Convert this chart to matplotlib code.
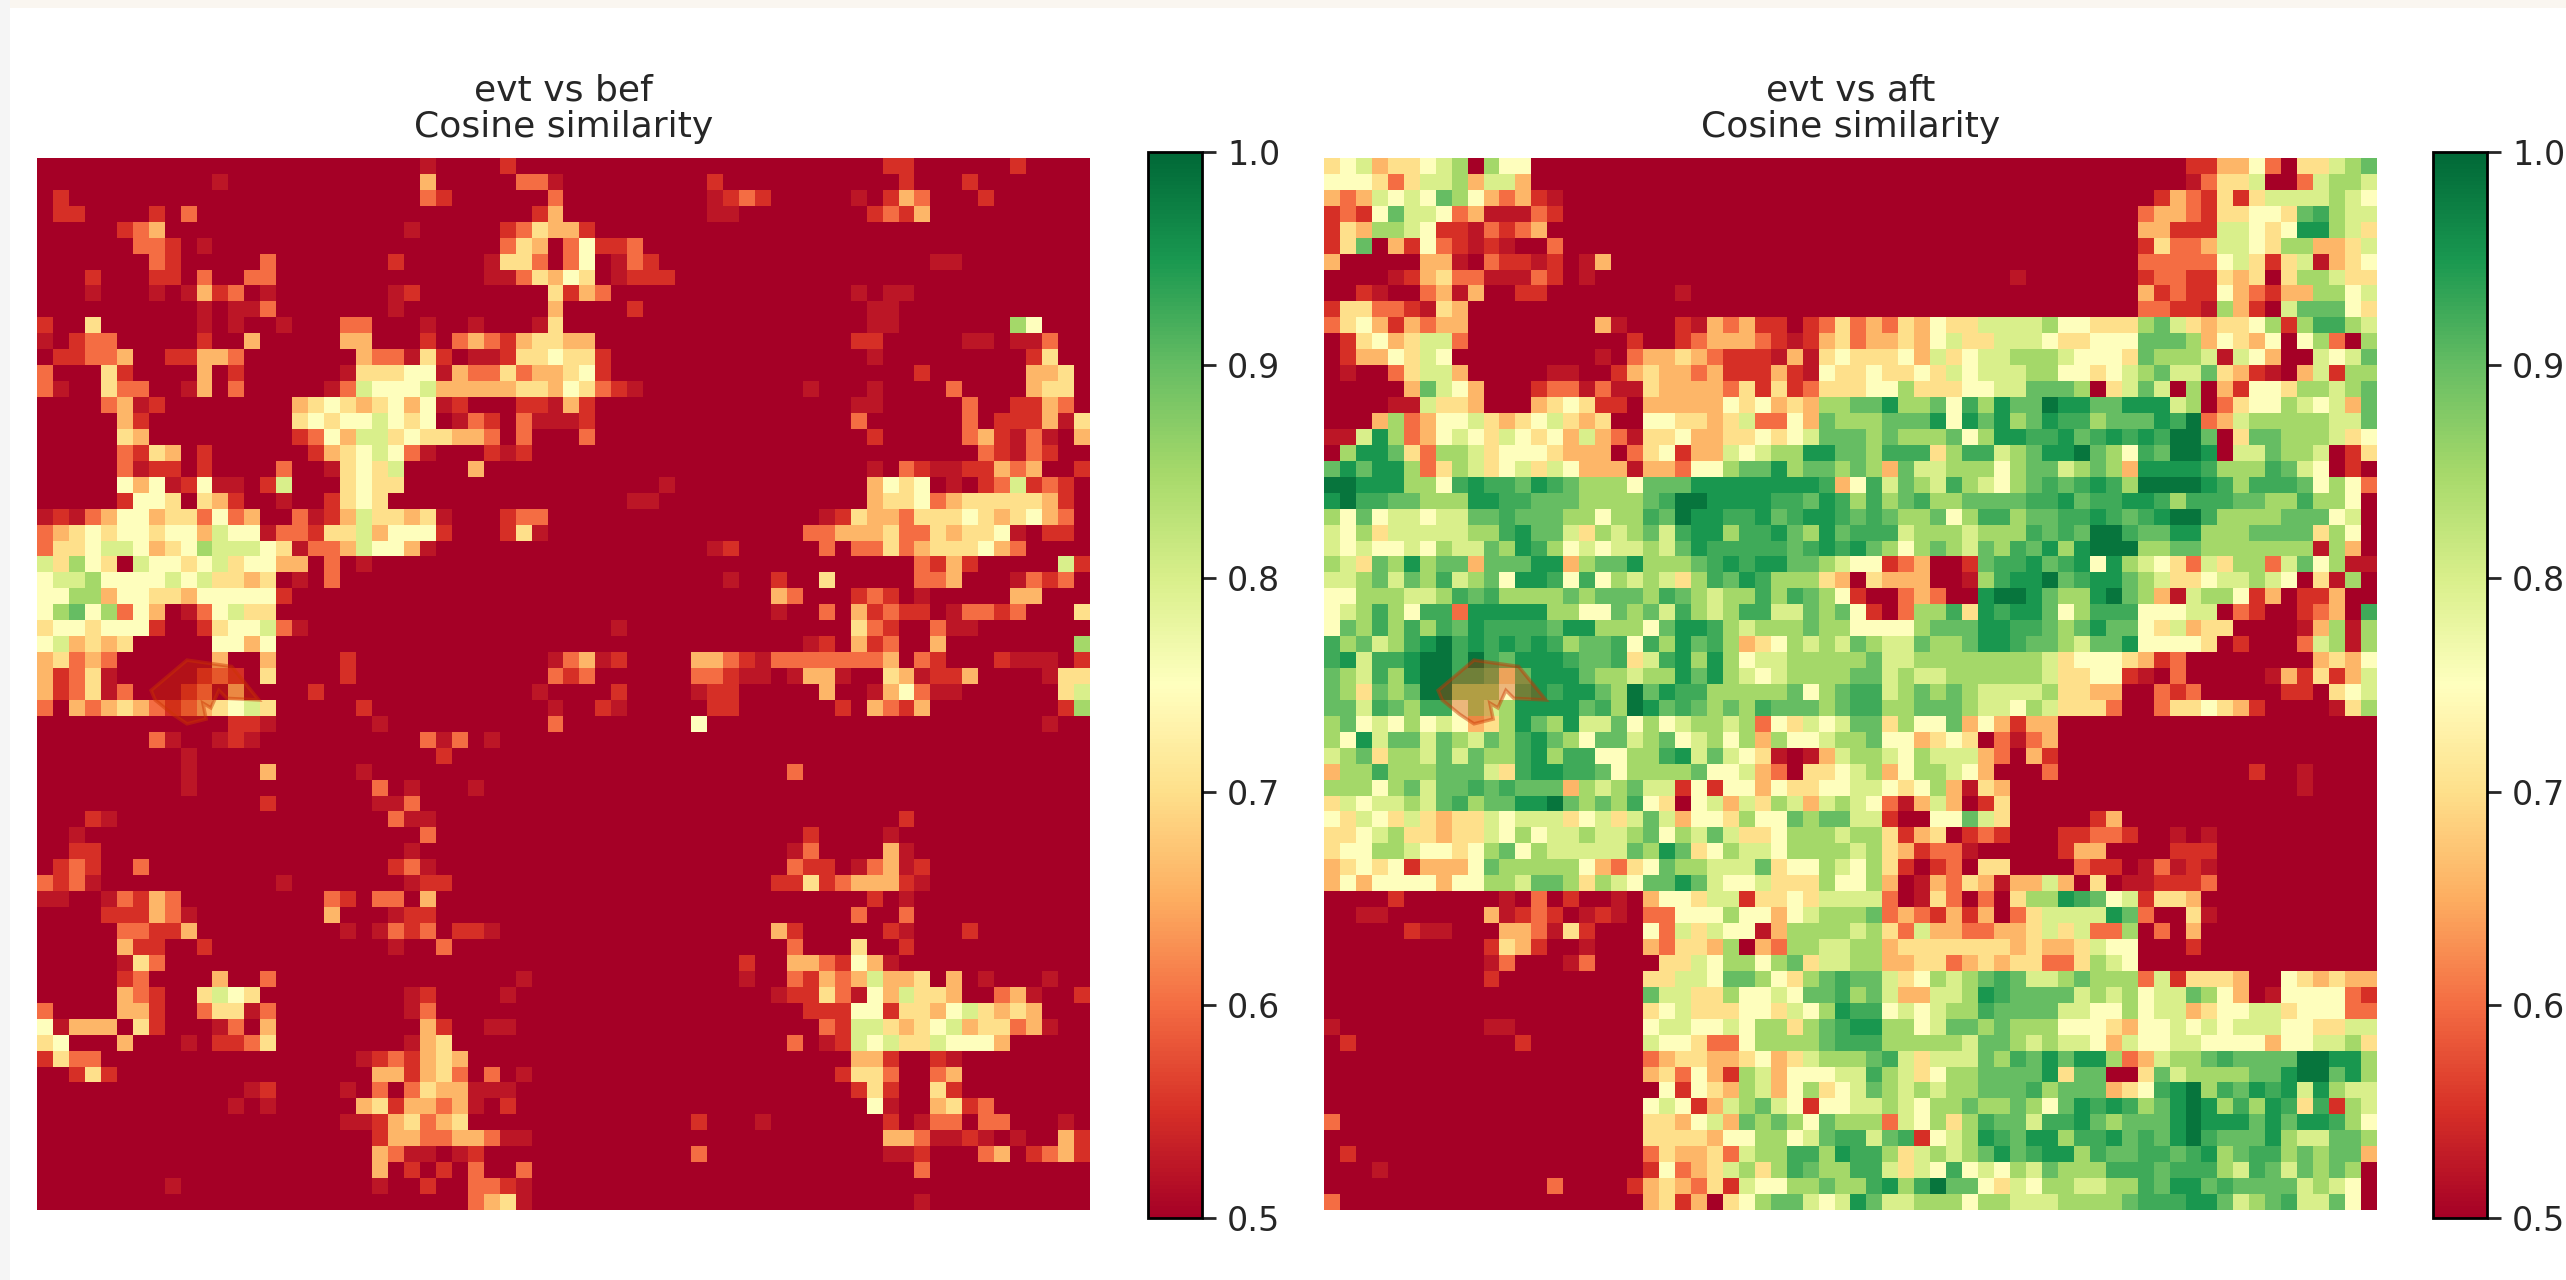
import numpy as np
import matplotlib
matplotlib.use("Agg")
import matplotlib.pyplot as plt
from matplotlib.patches import Polygon, Rectangle

# cell values, one string per row
# "col:vals" starts at a column, everything not listed is 0 (<= 0.5)
LEVELS = {'0': 0.50, 'r': 0.525, '1': 0.55, '2': 0.60, '3': 0.66, '4': 0.70, '5': 0.75,
          '6': 0.80, '7': 0.85, '8': 0.90, 'g': 0.925, '9': 0.95, 'd': 0.985}
N = 66

bef_left = [
    "24:r 29:1", "11:r 24:3 30:22r", "1:1 24:21 32:2", "1:11 7:1 9:2 31:13", "5:123 23:r 29:1243",
    "6:221 10:r 29:243", "7:21 14:2 22:1 28:r442", "3:1 7:11 10:2 13:22 28:rr243", "3:r 7:r 9:r312 14:r 22:r1 32:4",
    "10:r 12:rr2 22:r 32:3", "0:1 3:4 10:r 12:r 15:r 19:22 24:r 27:r 31:r4", "0:r 2:122 10:1 13:3 19:33 24:1 26:2321344",
    "1:11223 8:11332 20:322r41 27:rr1445", "0:2 4:41 10:3 12:1 19:r44455r3224233", "0:2r 4:422 9:r3 12:2 18:r26555633333443",
    "4:23r1 16:34543453 5r1 30:11r", "5:31 16:454556545 26:r21 30:2rr", "5:43 16:1253664544332 30:2",
    "5:2143 10:1 17:1345652r 28:1r1", "5:2r11 10:1 15:2 18:r4546 27:3", "5:535r15rr 14:16 19:4544",
    "5:1554 10:431 15:r 18:1454", "0:r1r23 55344 2523 16:2r13644 34r 29:122", "0:23454 55455 3655r 22144 63555 1 29:14r",
    "0:24456 65345 76665 4r223 6553r", "0:64754 06554 56455 33020 r", "0:56675 55565 64434 0r02",
    "0:55773 55443 55555 1", "0:57857 2530r 25644", "0:45545 55100 14556 2r", "0:563434 11:5535",
    "0:34232 11:3 14:3 19:1 32:r", "0:3124r 10:121 14:4 19:1 32:2",
    "0:3124r2 9:12 12:3 17:1 31:r", "0:2 2:3234321234564 20:1 32:r", "12:11r 21:r 32:2", "7:2r 11:r1r 24:2r2 28:r",
    "9:r 25:1", "9:r 14:3 20:r", "9:r 21:2 23:r 27:r", "14:1 21:rr2", "3:1r 22:2rr", "2:r 24:2", "2:11 23:r",
    "1:121 6:2 22:12r", "0:212r 15:r 23:r11", "0:rr 4:r2132 18:21 21:22 24:3", "4:11132r 18:3 22:r11",
    "5:22113 19:r 21:r212 26:11r", "5:311 10:1 22:r 25:2", "5:r42", "5:12 11:3 14:2 30:r",
    "5:321 10:4654 23:r1 29:r", "0:2 5:331 10:244r2 23:r2", "0:5r333 6:41 11:r2 14:3 24:31 28:rr",
    "0:45 5:3 9:r 11:1124 23:r34", "0:1422 20:r121343", "2:141 21:331342 28:2 30:r",
    "13:r1 19:r 21:2 23:2433rrr", "12:r 14:r 20:3413323r 29:1", "19:rr134234", "21:13322332rr",
    "21:32rr 26:r1", "21:3 23:1 25:1 27:2 30:2", "8:r 21:r 24:1 27:221r", "27:234r",
]

bef_right = [
    "20:11 28:1", "9:1 21:1 25:1", "9:r121 18:r 20:132 26:1", "9:rr 19:1213", "0:31", "0:25112", "0:25 3:r21 23:rr",
    "0:54 3:r111", "0:132 18:r 20:rr", "4:1 19:rr", "19:rr 28:75", "0:33 18:11 25:rr 28:rr2", "0:441 19:r 29:14",
    "0:451 22:1 29:334", "0:54 2:21r 15:r 19:r 24:2 29:344", "0:31 18:rr 25:2 28:1132", "0:r1 18:2 25:2 27:1113r4",
    "1:2 19:1 25:231r2r 32:3", "26:21r21", "19:r 21:21rr11323 32:1", "6:r 19:35450r 26:126121", "4:rr 19:3445234444431",
    "16:r1433 24445 43453 2", "15:22333 42243 445r0 11", "9:r1 16:2 18:22423 44453 2", "22:2131 31:61",
    "10:r 13:1 16:4 22:223 28:r212", "13:32 18:121 22:r 28:33", "13:r 16:2 18:31211 24:r2212 32:4",
    "3:r 18:421 23:2rr", "15:r1 18:312 23:3 32:7", "0:23r1 8:3321r 22222 22302 1 27:1rrr 32:1",
    "0:12 8:221rr 14:r33r 20:43r113 30:r44",
    "3:1 8:r11 16:3 19:r352rr 31:46", "2:1r 9:11 17:1 19:3213 31:17", "8:5 30:r", "", "", "14:2", "", "", "21:1",
    "15:1 20:r", "14:r2 20:3r", "14:211 18:r23r1", "13:114123331r", "19:1 21:r", "18:2 21:2", "13:31 20:1r 25:1",
    "14:2 18:4 21:1", "11:1 14:332153r", "11:r 14:213236334 24:3 26:r 30:r", "13:r1142r536443 27:23r 32:1",
    "15:111551443564343", "16:21664345634423r", "14:2 16:r16564465553", "18:331 23:1r", "17:1442 23:23",
    "18:141 23:41", "19:5r 23:3412", "8:1 12:r 20:1 22:r22 26:22 31:r", "20:332rr1r 28:r 31:31",
    "8:2 20:rr1 26:23 29:1231", "22:2", "", "22:r",
]

aft_left = [
    "0:45634 45670 755", "0:55542 46673 663", "0:32365 65875 3231r", "0:12158 66523 rrr21", "0:14377 6511r 2123",
    "0:14803 1521r 1r002", "0:3 6:33r0211r1 16:r3", "4:r13422rrr21 16:r", "2:1r 6:23r3 12:11 22:r", "0:144221 6:r43",
    "0:24531 3233 17:3r 22:1r323110124", "1:14534662 19:1 22:1233321r134", "1:1335465 17:r 19:233432111r3r45",
    "1:r 4:24663 14:rr 18:13433 23111 31r54", "5:38653 13:122r2 rr433 33241 41244", "4:rr6443 13:34541 10333 33545 34377",
    "3:37235 56434 56434 00554 43462 25387", "0:rr697 23565 46545 3632r 44533 44545 688",
    "0:07998 42776 45554 33302 45133 65677 998", "0:89899 72476 45646 5333r 33255 78897 887",
    "0:dd999 775g9 gg89g 87775 88899 99999 9g3", "0:9dgg8 87779 9gg88 87777 8gdd9 999gg 89g",
    "0:75856 65668 8g888 77577 g8d99 gg98g 99g", "0:65746 66667 7g988 64767 86g99 7gg98 798",
    "0:65655 65766 879g7 56566 7689g gggg8 g9g", "0:76487 97883 88899 37889 7778g 9g998 876",
    "0:66786 87g67 8599g 5g576 7647g 89g77 743", "0:55777 667g8 g7777 87888 7g876 77g7g 875",
    "0:567g7 5gg29 99997 75587 86g76 7gg66 878", "0:587g7 g7g89 gggg8 99777 5899g 76777 877",
    "0:g7867 g9dg9 g9g9g 788g5 g798g 73457 676", "0:g96gg 9ddgd g8999 g88g4 6g979 75667 777",
    "0:876g7 9ddgg 84899 98776 77989 76567 777",
    "0:87487 8dd77 75g9g 9987d 89gg7 77778 578", "0:886g8 7gg57 67999 98g7d 98g87 87g88 878",
    "0:78565 75653 47987 96685 75677 67254 656", "0:75968 86876 87g98 75886 78567 57375 567",
    "0:67847 76868 77g97 gg557 7g968 654r0 r36", "0:377g7 77888 64g99 gg857 77785 56320 445",
    "0:77757 8688g 8g888 37678 66151 55354 455", "0:46566 768g7 8899d 8787g 54056 36476 367",
    "0:54654 64344 65666 45646 86355 47558 788", "0:44567 44344 65756 67667 85768 64457 776",
    "0:45577 65545 78576 66668 79845 76657 777", "0:34545 13335 87777 75324 58776 66845 576",
    "0:35355 55355 77688 74765 88986 55644 475", "4:1 11:r0201 00r03 55466 14454 66",
    "2:rr 10:3r121 0r1r0 22555 75535 677", "5:1rr 11:332r41 20:52646 55r37 777",
    "10:1431 16:r 20:32443 70327 766", "10:r2 15:r2 21:44657 75784 66", "10:1 20:44665 88754 78g",
    "20:86644 75565 88g", "20:45644 45546 579", "0:r 10:rr 20:56655 65774 78g", "1:1 12:1 20:65542 25777 78g",
    "20:23443 34534 677", "20:34253 17635 556", "21:51543 76357 45", "20:56513 67865 155", "0:2 20:44356 38787 587",
    "20:44443 55775 68g", "1:1 20:24334 2677g g79", "3:r 20:15234 6747g 877", "14:2 19:13432 41655 7787",
    "0:2 20:34130 45788 656",
]

aft_right = [
    "21:113352044678", "21:r24460026776", "19:13214146666765", "18:23321 44554 8g766", "18:33111 66545 99764",
    "18:14223 66547 73346", "18:22222 56414 6r345", "10:r 18:12211 43404 77644", "18:31211 53213 37756",
    "18:2211r 73106 88854", "0:23243 54466 66755 44478 64344 5717g g76", "0:23343 56446 66544 55588 87354 35057 207",
    "0:44453 64566 77765 55487 776r6 53006 568", "0:45445 46566 67755 45678 66843 1r036 177",
    "0:45574 44556 68887 04686 07031 55477 678", "0:88977 85g79 88d99 88999 67024 55765 638",
    "0:77888 95989 789gg 78889 gd236 77777 668", "0:87877 78579 9gg98 g9g9g dd804 88777 645",
    "0:87ggg 47gg6 7899d 875g8 dd906 68776 014", "0:87386 67775 78867 87399 99g77 7g865 010",
    "0:5g687 6g765 78g8g 9g7dd dd9g7 ggg85 752", "0:7g78g 77888 8gg98 gg99g 7ggg8 877g7 750",
    "0:8g877 857gg 788gg 9g8g9 ddg77 77888 560", "0:ggg67 77677 7g8g8 ddg88 99777 88884 750",
    "0:98757 87687 g8979 ddd77 88777 7777r 730", "0:55123 0018g g98g9 59765 42647 72685 7rr",
    "0:04333 00r7g 99d8g 99876 44566 76504 r70", "0:10023 2009d d9877 9d873 r6775 13011 300",
    "0:51027 7g49g 99857 ggg55 56602 10012 30g", "0:55557 88899 gg878 98854 63440 000r3 7r7",
    "0:87668 77899 g8876 88955 55401 00026 7r7", "0:78667 77777 77645 55431 20000 00003 435",
    "0:88676 67777 77644 551r0 20000 0r314 136",
    "0:gg678 78766 66744 33002 12000 00110 456", "0:gg778 88766 57644 42002 44543 10000 r47", "0:88475 58353 133",
    "0:78553 45402 r23", "0:77657 66632 031", "0:67357 76530 002 25:1 28:r", "0:66545 73r43 28:r", "0:652r3 63014",
    "0:66100 55864 15:13", "0:77413 40121 13:11221 20:r 22:r", "0:67431 22r 13:133 20:111",
    "0:57410 12044 14:211 18:r2r1r", "0:5730r 3243r 33630 40rr1 112", "0:6620r 42020 4779g 85614 43",
    "0:78232 13130 24666 69820 04r", "0:67426 33223 34646 22702 03", "0:77344 44444 34334 65500 01",
    "0:77334 42343 44224 765", "0:88645 7678g 86678 77726 14443 00543 433", "0:78633 6679g 88886 76756 68753 0r555 521",
    "0:gg565 677g8 88866 55756 63455 66455 522", "0:99775 68878 77755 54355 65656 66554 466",
    "0:gg777 77688 76766 53655 66555 53556 674", "0:78g64 66687 g8989 97236 778g8 888dd 997",
    "0:6g764 57788 88948 80048 67777 889dd 897", "0:68767 67788 8g788 8345g 9d7g8 9g969 766",
    "0:66765 77877 87589 g9g78 9d97g 79g4g 176", "0:77265 747g8 86gg9 87888 9d999 89899 g75",
    "0:g68g1 5679g 8997g g98g8 9dg88 89766 887", "0:gg746 76789 8g997 g88gg 8g978 gg787 883",
    "0:gg646 5g565 76877 7ggg8 ggg76 g8687 870", "0:7g97g d8854 65776 677g8 998g8 88867 650",
    "0:98667 77577 66677 778gg g9986 78g66 850",
]

# outline of the marked region, in cell coordinates
region_col = [7.15, 9.4, 12.2, 13.9, 11.9, 11.4, 10.9, 10.4, 10.6, 9.4, 8.5, 7.4]
region_row = [33.4, 31.5, 31.9, 34.0, 33.9, 33.4, 34.5, 34.2, 35.2, 35.5, 34.9, 34.0]

titles = ["evt vs bef\nCosine similarity", "evt vs aft\nCosine similarity"]
cbar_ticks = [0.5, 0.6, 0.7, 0.8, 0.9, 1.0]


def parse_half(rows, offset, grid):
    for r, row in enumerate(rows):
        col = offset
        for tok in row.split():
            if ':' in tok:
                start, tok = tok.split(':')
                col = offset + int(start)
            for ch in tok:
                if col < offset + N // 2:
                    grid[r, col] = LEVELS[ch]
                col += 1


def build_grid(left, right):
    grid = np.full((N, N), 0.5)
    parse_half(left, 0, grid)
    parse_half(right, N // 2, grid)
    return grid


W, H = 2566, 1280
fig = plt.figure(figsize=(W / 100, H / 100), dpi=100)
fig.patches.append(Rectangle((0, 1 - 8 / H), 1, 8 / H, transform=fig.transFigure, color='#faf6f0', lw=0))
fig.patches.append(Rectangle((0, 0), 10 / W, 1, transform=fig.transFigure, color='#f5f5f5', lw=0))


def pixel_axes(x0, x1, y0, y1):
    return fig.add_axes([x0 / W, 1 - y1 / H, (x1 - x0) / W, (y1 - y0) / H])


panels = [(build_grid(bef_left, bef_right), 37, 1148), (build_grid(aft_left, aft_right), 1324, 2433)]
for (grid, x0, cx0), title in zip(panels, titles):
    ax = pixel_axes(x0, x0 + 1053, 158, 1210)
    im = ax.imshow(grid, cmap='RdYlGn', vmin=0.5, vmax=1.0, extent=(0, N, N, 0), interpolation='nearest', aspect='auto')
    ax.add_patch(Polygon(np.column_stack([region_col, region_row]), closed=True,
                         facecolor=(0.8, 0.2, 0.0, 0.35), edgecolor=(0.8, 0.2, 0.0, 0.45), lw=2.5))
    ax.axis('off')
    ax.text(0.5, 1.0 + 14 / 1052, title, transform=ax.transAxes, ha='center', va='bottom', fontsize=26,
            color='#262626', linespacing=1.1)

    cax = pixel_axes(cx0, cx0 + 54, 152, 1218)
    cb = fig.colorbar(im, cax=cax, ticks=cbar_ticks)
    cb.ax.tick_params(labelsize=24, length=10, width=2, pad=8, colors='#262626')
    cb.ax.set_yticklabels(['%.1f' % t for t in cbar_ticks])
    cb.outline.set_linewidth(2)

fig.savefig('out.png', dpi=100)
